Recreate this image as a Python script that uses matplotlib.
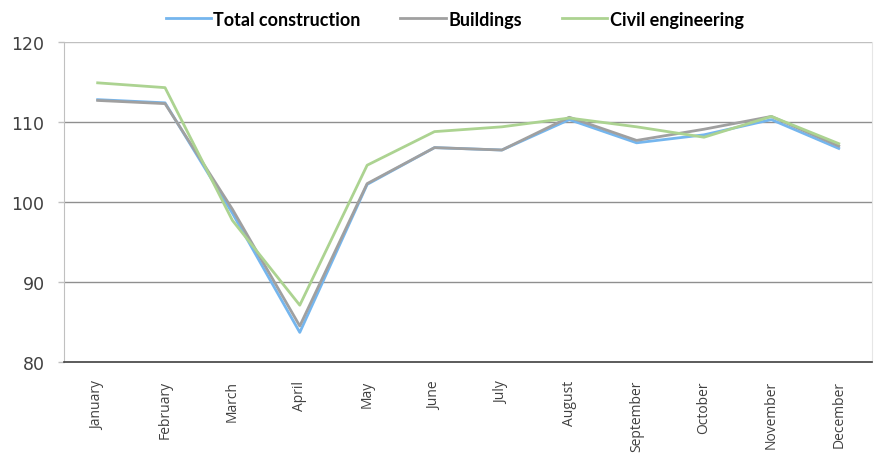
import matplotlib.pyplot as plt

# Monthly index values
months = ['January', 'February', 'March', 'April', 'May', 'June', 'July',
          'August', 'September', 'October', 'November', 'December']
total_construction = [112.8, 112.4, 98.6, 83.7, 102.2, 106.8, 106.5, 110.3, 107.4, 108.4, 110.3, 106.7]
buildings = [112.7, 112.3, 99.1, 84.5, 102.3, 106.8, 106.5, 110.6, 107.7, 109.1, 110.7, 107.0]
civil_engineering = [114.9, 114.3, 97.7, 87.1, 104.6, 108.8, 109.4, 110.5, 109.4, 108.1, 110.7, 107.3]

fig = plt.figure(figsize=(8.74, 4.56), dpi=100)
ax = fig.add_axes([0.0732, 0.204, 0.925, 0.7016])

x = range(len(months))
ax.plot(x, total_construction, color='#75b6ee', lw=2.0, label='Total construction')
ax.plot(x, buildings, color='#a0a0a0', lw=2.0, label='Buildings')
ax.plot(x, civil_engineering, color='#acd391', lw=2.0, label='Civil engineering')

ax.set_xlim(-0.5, 11.5)
ax.set_ylim(80, 120)
ax.set_yticks([80, 90, 100, 110, 120])
ax.set_xticks(list(x))
ax.set_xticklabels(months, rotation=90, fontsize=10, family='Open Sans', color='#404040')
ax.tick_params(axis='y', labelsize=12.5, length=4.5, width=1.0, color='#c0c0c0',
               pad=9.5, labelcolor='#404040')
ax.tick_params(axis='x', length=0, pad=13)

for yv in [90, 100, 110]:
    ax.axhline(yv, color='#8f8f8f', lw=1.0, zorder=0)
ax.axhline(120, color='#c0c0c0', lw=1.0, zorder=0)

ax.spines['top'].set_visible(False)
ax.spines['right'].set_color('#e6e6e6')
ax.spines['left'].set_color('#c0c0c0')
ax.spines['bottom'].set_color('#404040')
ax.spines['bottom'].set_linewidth(1.2)

fig.legend(loc='upper center', bbox_to_anchor=(0.52, 1.01), ncol=3, frameon=False,
           handlelength=2.5, handletextpad=0.15, columnspacing=2.2,
           prop={'family': ['Lato', 'DejaVu Sans'], 'weight': 'bold', 'size': 13})

fig.savefig('out.png', dpi=100)
